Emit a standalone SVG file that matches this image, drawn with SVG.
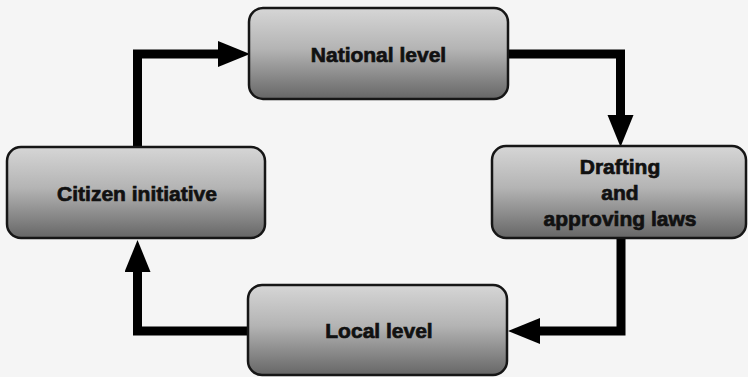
<svg xmlns="http://www.w3.org/2000/svg" width="748" height="377" viewBox="0 0 748 377">
  <style>
    .box { stroke: #161616; stroke-width: 2.5; fill: url(#g); }
    .lbl { font-family: "Liberation Sans", Arial, sans-serif; font-weight: bold; font-size: 21px; fill: #111; stroke: #111; stroke-width: 0.7; text-anchor: middle; }
    .conn { fill: none; stroke: #000; stroke-width: 9; stroke-linejoin: miter; stroke-linecap: butt; marker-end: url(#ah); }
  </style>
  <defs>
    <linearGradient id="g" x1="0" y1="0" x2="0" y2="1">
      <stop offset="0" stop-color="#d6d6d6"/>
      <stop offset="0.45" stop-color="#b4b4b4"/>
      <stop offset="1" stop-color="#666666"/>
    </linearGradient>
    <marker id="ah" markerUnits="userSpaceOnUse" markerWidth="33" markerHeight="27" refX="1" refY="13" orient="auto">
      <path d="M0,0 L32,13 L0,26 z" fill="#000"/>
    </marker>
  </defs>
  <rect width="748" height="377" fill="#f5f5f5"/>
  <g id="connectors">
    <path class="conn" d="M137.5,147 V54 H219"/>
    <path class="conn" d="M508,54 H620.5 V116"/>
    <path class="conn" d="M621,238 V331 H539"/>
    <path class="conn" d="M248,331 H137.5 V271"/>
  </g>
  <g id="national">
    <rect class="box" x="249" y="8" width="259" height="91" rx="14"/>
    <text class="lbl" x="378.5" y="62">National level</text>
  </g>
  <g id="drafting">
    <rect class="box" x="492" y="146" width="254" height="92" rx="14"/>
    <text class="lbl" x="620" y="174">Drafting</text>
    <text class="lbl" x="620" y="200">and</text>
    <text class="lbl" x="620" y="226">approving laws</text>
  </g>
  <g id="citizen">
    <rect class="box" x="7" y="147" width="258" height="91" rx="14"/>
    <text class="lbl" x="137" y="201">Citizen initiative</text>
  </g>
  <g id="local">
    <rect class="box" x="248" y="285" width="259" height="90" rx="14"/>
    <text class="lbl" x="379" y="338">Local level</text>
  </g>
</svg>
